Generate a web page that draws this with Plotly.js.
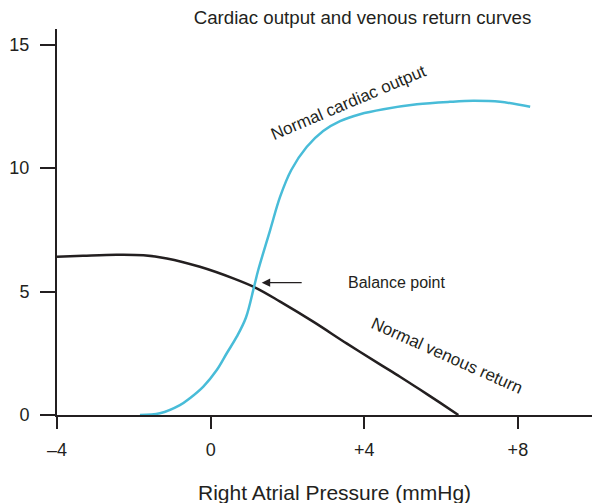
<!DOCTYPE html>
<html>
<head>
<meta charset="utf-8">
<script src="https://cdn.plot.ly/plotly-3.0.1.min.js"></script>
<style>html,body{margin:0;padding:0;background:#fff;}#chart{width:592px;height:503px;}</style>
</head>
<body>
<div id="chart"></div>
<script>
// Normal cardiac output curve (right atrial pressure mmHg, output L/min)
const coX = [-1.84, -1.32, -0.80, -0.54, -0.19, 0.16, 0.42, 0.68, 0.92, 1.13, 1.24, 1.55, 1.81, 2.10, 2.50, 2.93, 3.37, 3.89, 4.50, 5.37, 6.23, 6.84, 7.54, 8.32];
const coY = [0.00, 0.07, 0.40, 0.68, 1.15, 1.82, 2.50, 3.17, 3.95, 5.19, 5.87, 7.49, 8.84, 9.92, 10.85, 11.50, 11.90, 12.18, 12.38, 12.58, 12.68, 12.72, 12.68, 12.48];
// Normal venous return curve
const vrX = [-4.00, -3.32, -2.45, -1.75, -1.14, -0.28, 0.59, 1.20, 1.81, 2.67, 3.54, 4.41, 4.93, 5.45, 5.97, 6.45];
const vrY = [6.41, 6.45, 6.49, 6.47, 6.34, 6.00, 5.53, 5.13, 4.59, 3.78, 2.90, 2.05, 1.55, 1.03, 0.50, 0.00];
// Axis ticks
const xTickVals = [-4, 0, 4, 8];
const xTickText = ['\u20134', '0', '+4', '+8'];
const yTickVals = [0, 5, 10, 15];
// Balance point (arrow tip) and arrow tail
const balance = {x: 1.33, y: 5.36, tailX: 2.41};

const ink = '#231f20';
const font = 'Liberation Sans, Arial, Helvetica, sans-serif';

const traces = [
  {x: vrX, y: vrY, type: 'scatter', mode: 'lines', line: {color: ink, width: 2.5, shape: 'spline', smoothing: 1}, hoverinfo: 'skip'},
  {x: coX, y: coY, type: 'scatter', mode: 'lines', line: {color: '#48bcd8', width: 2.5, shape: 'spline', smoothing: 1}, hoverinfo: 'skip'}
];

const layout = {
  width: 592, height: 503,
  margin: {l: 57, r: 0, t: 29, b: 88},
  paper_bgcolor: '#fff', plot_bgcolor: '#fff',
  showlegend: false,
  font: {family: font, color: ink, size: 18},
  title: {text: 'Cardiac output and venous return curves', font: {family: font, size: 18.7, color: ink},
          xref: 'container', yref: 'container', x: 0.6123, xanchor: 'center', y: 0.966, yanchor: 'middle'},
  xaxis: {range: [-4, 9.93], tickvals: xTickVals, ticktext: xTickText, showline: true, linecolor: ink, linewidth: 2,
          ticks: 'outside', ticklen: 12, tickwidth: 2, tickcolor: ink, showgrid: false, zeroline: false,
          tickfont: {family: font, size: 18, color: ink}, ticklabelstandoff: 5, fixedrange: true},
  yaxis: {range: [0, 15.63], tickvals: yTickVals, showline: true, linecolor: ink, linewidth: 2,
          ticks: 'outside', ticklen: 15, tickwidth: 2, tickcolor: ink, showgrid: false, zeroline: false,
          tickfont: {family: font, size: 18, color: ink}, ticklabelstandoff: 7, fixedrange: true},
  annotations: [
    {xref: 'paper', yref: 'paper', x: 0.5196, y: -0.1995, xanchor: 'center', yanchor: 'middle', showarrow: false,
     text: 'Right Atrial Pressure (mmHg)', font: {family: font, size: 21, color: ink}},
    {x: 3.60, y: 12.67, xref: 'x', yref: 'y', showarrow: false, text: 'Normal cardiac output', textangle: -23,
     font: {family: font, size: 17, color: ink}},
    {x: 6.13, y: 2.39, xref: 'x', yref: 'y', showarrow: false, text: 'Normal venous return', textangle: 24,
     font: {family: font, size: 17, color: ink}},
    {x: 4.85, y: 5.38, xref: 'x', yref: 'y', showarrow: false, text: 'Balance point',
     font: {family: font, size: 16, color: ink}},
    {x: balance.x, y: balance.y, xref: 'x', yref: 'y', ax: balance.tailX, ay: balance.y, axref: 'x', ayref: 'y',
     text: '', showarrow: true, arrowhead: 2, arrowsize: 1.3, arrowwidth: 1.3, arrowcolor: ink}
  ]
};

Plotly.newPlot('chart', traces, layout, {displayModeBar: false, staticPlot: true});
</script>
</body>
</html>
